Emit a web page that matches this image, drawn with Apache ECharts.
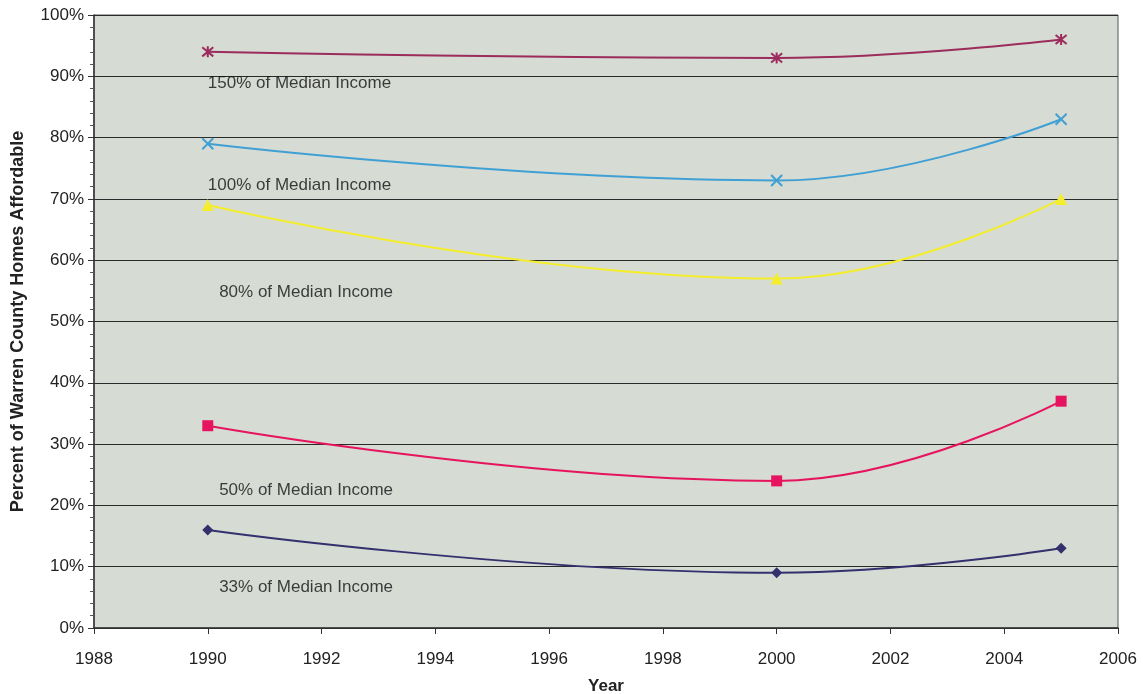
<!DOCTYPE html>
<html>
<head>
<meta charset="utf-8">
<script src="https://cdn.jsdelivr.net/npm/echarts@6/dist/echarts.min.js"></script>
<style>
  html, body { margin: 0; padding: 0; background: #ffffff; }
  #chart { width: 1143px; height: 694px; }
</style>
</head>
<body>
<div id="chart"></div>
<script>
// Share of Warren County homes affordable at each income level
const years = [1990, 2000, 2005];
const income150 = [94, 93, 96];
const income100 = [79, 73, 83];
const income80 = [69, 57, 70];
const income50 = [33, 24, 37];
const income33 = [16, 9, 13];

const seriesNames = ['150% of Median Income', '100% of Median Income', '80% of Median Income', '50% of Median Income', '33% of Median Income'];
const seriesValues = [income150, income100, income80, income50, income33];
const seriesColors = ['#9c2c5c', '#40a0d4', '#f4ee2c', '#e6145e', '#34306e'];

// Marker shapes: asterisk, cross, triangle, square, diamond
const ASTERISK = 'path://M-5,-5L5,5M-5,5L5,-5M0,-6L0,6';
const CROSS = 'path://M-5,-5L5,5M-5,5L5,-5';
const symbols = [ASTERISK, CROSS, 'triangle', 'rect', 'diamond'];
const symbolSizes = [11, 11, 12, 11, 11];
const strokeSymbols = [true, true, false, false, false];

// Text labels placed inside the plot: [year, percent]
const labelAnchors = [[1990, 88.9], [1990, 72.2], [1990.2, 54.8], [1990.2, 22.5], [1990.2, 6.6]];

const FONT = 'Liberation Sans, Arial, sans-serif';

const chart = echarts.init(document.getElementById('chart'));

const series = seriesNames.map((name, i) => ({
  name: name,
  type: 'line',
  smooth: 0.45,
  data: years.map((y, j) => [y, seriesValues[i][j]]),
  symbol: symbols[i],
  symbolSize: symbolSizes[i],
  showAllSymbol: true,
  lineStyle: { color: seriesColors[i], width: 2 },
  itemStyle: strokeSymbols[i]
    ? { color: seriesColors[i], borderColor: seriesColors[i], borderWidth: 2 }
    : { color: seriesColors[i], borderWidth: 0 },
  emphasis: { disabled: true },
  z: 3
}));

// Inline labels drawn through the axes via an invisible scatter series
series.push({
  type: 'scatter',
  data: labelAnchors.map((a, i) => ({ value: a, name: seriesNames[i] })),
  symbolSize: 0,
  silent: true,
  label: {
    show: true,
    position: 'right',
    distance: 0,
    formatter: p => p.name,
    color: '#111111',
    fontFamily: FONT,
    fontSize: 17
  },
  z: 4
});

chart.setOption({
  animation: false,
  backgroundColor: '#ffffff',
  grid: {
    left: 94, right: 25, top: 15, bottom: 66,
    outerBoundsMode: 'none',
    show: true, backgroundColor: '#d6dbd4', borderColor: '#555', borderWidth: 1
  },
  xAxis: {
    type: 'value',
    min: 1988,
    max: 2006,
    interval: 2,
    name: 'Year',
    nameLocation: 'middle',
    nameGap: 50,
    nameTextStyle: { fontFamily: FONT, fontSize: 17, fontWeight: 'bold', color: '#222' },
    axisLine: { onZero: false, lineStyle: { color: '#333', width: 1.5 } },
    axisTick: { show: true, length: 6, lineStyle: { color: '#333' } },
    axisLabel: { color: '#222', fontFamily: FONT, fontSize: 17, margin: 23, formatter: v => String(v) },
    splitLine: { show: false }
  },
  yAxis: {
    type: 'value',
    min: 0,
    max: 100,
    interval: 10,
    name: 'Percent of Warren County Homes Affordable',
    nameLocation: 'middle',
    nameGap: 67,
    nameTextStyle: { fontFamily: FONT, fontSize: 18, fontWeight: 'bold', color: '#222' },
    axisLine: { show: true, lineStyle: { color: '#333', width: 1.5 } },
    axisTick: { show: true, length: 6, lineStyle: { color: '#333' } },
    minorTick: { show: true, splitNumber: 5, length: 4, lineStyle: { color: '#555' } },
    axisLabel: { color: '#222', fontFamily: FONT, fontSize: 17, margin: 10, formatter: v => v + '%' },
    splitLine: { show: true, lineStyle: { color: '#2a2a2a', width: 1 } }
  },
  series: series
});
</script>
</body>
</html>
